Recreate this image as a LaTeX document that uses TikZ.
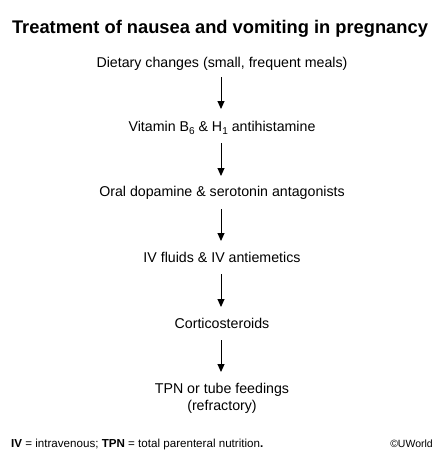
\documentclass[tikz,border=0pt]{standalone}
\usepackage{fontspec}
\setmainfont{Liberation Sans}
\usetikzlibrary{arrows.meta}
\newcommand{\lowsub}[1]{\raisebox{-0.45ex}{\fontsize{10}{10}\selectfont #1}}
\begin{document}
\begin{tikzpicture}[x=1pt,y=-1pt,
  lbl/.style={anchor=base,inner sep=0pt,font=\fontsize{14.2}{16}\selectfont},
  arr/.style={-{Triangle[width=7pt,length=8pt]},line width=1pt}]
\useasboundingbox (0,0) rectangle (440,455);
\node[anchor=base,inner sep=0pt,font=\fontsize{18.3}{20}\selectfont\bfseries] (title) at (220,33) {Treatment of nausea and vomiting in pregnancy};
\node[lbl] (n1) at (222,67) {Dietary changes (small, frequent meals)};
\node[lbl] (n2) at (222,131) {Vitamin B\lowsub{6} \& H\lowsub{1} antihistamine};
\node[lbl] (n3) at (222,196) {Oral dopamine \& serotonin antagonists};
\node[lbl] (n4) at (222,262) {IV fluids \& IV antiemetics};
\node[lbl] (n5) at (222,328) {Corticosteroids};
\node[lbl] (n6) at (222,393) {TPN or tube feedings};
\node[lbl] (n6b) at (222,410) {(refractory)};
\coordinate (a1s) at (221,77); \coordinate (a1e) at (221,109);
\coordinate (a2s) at (221,143); \coordinate (a2e) at (221,176);
\coordinate (a3s) at (221,209); \coordinate (a3e) at (221,241);
\coordinate (a4s) at (221,274); \coordinate (a4e) at (221,307);
\coordinate (a5s) at (221,340); \coordinate (a5e) at (221,372);
\draw[arr] (a1s) -- (a1e);
\draw[arr] (a2s) -- (a2e);
\draw[arr] (a3s) -- (a3e);
\draw[arr] (a4s) -- (a4e);
\draw[arr] (a5s) -- (a5e);
\node[anchor=base west,inner sep=0pt,font=\fontsize{11.6}{13}\selectfont] (foot) at (11,447) {\textbf{IV} = intravenous; \textbf{TPN} = total parenteral nutrition\textbf{.}};
\node[anchor=base east,inner sep=0pt,font=\fontsize{10.5}{12}\selectfont] (copy) at (433,447) {©UWorld};
\end{tikzpicture}
\end{document}
